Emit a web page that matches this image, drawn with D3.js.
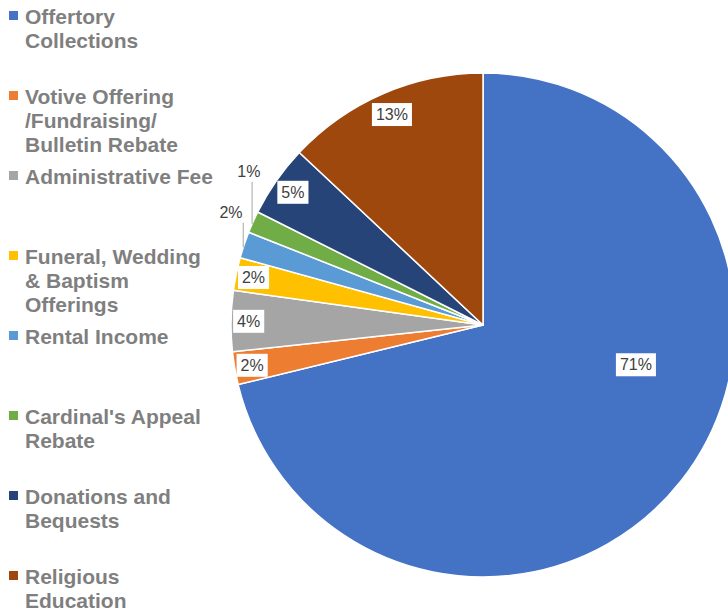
<!DOCTYPE html>
<html>
<head>
<meta charset="utf-8">
<script src="https://cdn.jsdelivr.net/npm/d3@7"></script>
<style>
  html, body { margin: 0; padding: 0; background: #fff; }
  svg { display: block; }
</style>
</head>
<body>
<svg id="chart" width="728" height="612"></svg>
<script>
// ---- data ----
const categories = [
  "Offertory Collections",
  "Votive Offering /Fundraising/ Bulletin Rebate",
  "Administrative Fee",
  "Funeral, Wedding & Baptism Offerings",
  "Rental Income",
  "Cardinal's Appeal Rebate",
  "Donations and Bequests",
  "Religious Education"
];
const legendLines = [
  ["Offertory", "Collections"],
  ["Votive Offering", "/Fundraising/", "Bulletin Rebate"],
  ["Administrative Fee"],
  ["Funeral, Wedding", "& Baptism", "Offerings"],
  ["Rental Income"],
  ["Cardinal's Appeal", "Rebate"],
  ["Donations and", "Bequests"],
  ["Religious", "Education"]
];
const values = [71.2, 2.1, 3.9, 2.1, 1.7, 1.4, 4.6, 13.0];
const colors = ["#4472C4", "#ED7D31", "#A5A5A5", "#FFC000", "#5B9BD5", "#70AD47", "#264478", "#9E480E"];

// label placement (style): radius factor, angle fraction within slice, outside flag
const labelRadius = [0.627, 0.93, 0.93, 0.93, 1.095, 1.11, 0.92, 0.91];
const labelAngleFrac = [0.408, 0.5, 0.5, 0.5, 1.4, 2.3, 0.5, 0.5];
const outside = [false, false, false, false, true, true, false, false];

const svg = d3.select("#chart");
const cx = 483, cy = 325, R = 252;

const pie = d3.pie().sort(null).value(d => d)(values);
const arc = d3.arc().innerRadius(0).outerRadius(R);

const g = svg.append("g").attr("transform", `translate(${cx},${cy})`);
g.selectAll("path.slice").data(pie).join("path")
  .attr("class", "slice")
  .attr("d", arc)
  .attr("fill", (d, i) => colors[i])
  .attr("stroke", "#fff")
  .attr("stroke-width", 1.5)
  .attr("stroke-linejoin", "round");

const total = d3.sum(values);
const fmt = v => Math.round(v / total * 100) + "%";

pie.forEach((d, i) => {
  const a = d.startAngle + (d.endAngle - d.startAngle) * labelAngleFrac[i];
  const r = R * labelRadius[i];
  const x = Math.sin(a) * r, y = -Math.cos(a) * r;
  const lg = g.append("g").attr("transform", `translate(${x},${y})`);
  const t = lg.append("text")
    .attr("text-anchor", "middle")
    .attr("dy", "0.35em")
    .attr("font-family", "Liberation Sans, Arial, sans-serif")
    .attr("font-size", 16)
    .attr("fill", "#404040")
    .text(fmt(d.value));
  if (!outside[i]) {
    const bb = t.node().getBBox();
    lg.insert("rect", "text")
      .attr("x", bb.x - 4).attr("y", -11.5)
      .attr("width", bb.width + 8).attr("height", 23)
      .attr("fill", "#fff");
  } else {
    // leader line from slice edge up to label
    const ea = d.startAngle + (d.endAngle - d.startAngle) * 0.4;
    const ex = Math.sin(ea) * R, ey = -Math.cos(ea) * R;
    g.append("line")
      .attr("x1", ex).attr("y1", ey)
      .attr("x2", ex).attr("y2", y + 10)
      .attr("stroke", "#A6A6A6").attr("stroke-width", 1);
  }
});

// legend
const legend = svg.append("g");
legendLines.forEach((lines, i) => {
  const baseY = 24 + i * 80;
  legend.append("rect")
    .attr("x", 9).attr("y", baseY - 13)
    .attr("width", 9).attr("height", 9)
    .attr("fill", colors[i]);
  const t = legend.append("text")
    .attr("x", 25).attr("y", baseY)
    .attr("font-family", "Liberation Sans, Arial, sans-serif")
    .attr("font-size", 21)
    .attr("font-weight", "bold")
    .attr("fill", "#7F7F7F");
  lines.forEach((ln, j) => {
    t.append("tspan").attr("x", 25).attr("y", baseY + j * 24).text(ln);
  });
});
</script>
</body>
</html>
